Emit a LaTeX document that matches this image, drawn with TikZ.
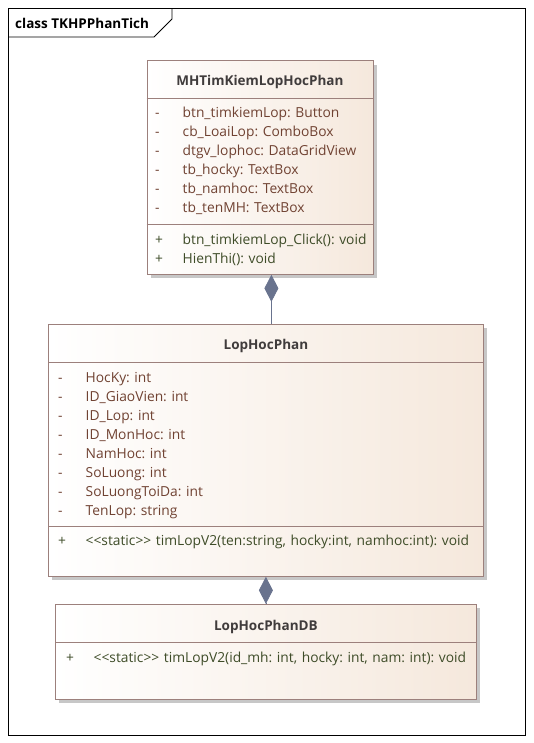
\documentclass[tikz,border=0pt]{standalone}
\usepackage{fontspec}
\setmainfont{Open Sans}
\usetikzlibrary{positioning,arrows.meta,shadows}
\definecolor{clsline}{RGB}{156,128,124}
\definecolor{clsfill}{RGB}{245,232,220}
\definecolor{attrtxt}{RGB}{112,66,50}
\definecolor{opstxt}{RGB}{62,76,40}
\definecolor{titletxt}{RGB}{64,60,60}
\definecolor{assoc}{RGB}{105,115,142}
\newcommand\vsb[1]{\makebox[27.5pt][l]{#1}}
\newcommand\stc{{<}{<}static{>}{>}}
\frenchspacing
\tikzset{
  umlclass/.style={draw=clsline, line width=0.8pt, left color=white, right color=clsfill,
    anchor=north west, inner sep=0pt,
    drop shadow={shadow xshift=4pt, shadow yshift=-4pt, fill=black!22, opacity=1}},
  sep/.style={draw=clsline, line width=0.8pt},
  clstitle/.style={font=\fontsize{13.5}{16}\selectfont\bfseries, text=titletxt, inner sep=0pt},
  attr/.style={font=\fontsize{13.8}{16}\selectfont, text=attrtxt, text width=420pt, align=left,
    inner sep=0pt, text height=8pt, text depth=0pt, node distance=19pt},
  oper/.style={attr, text=opstxt},
  comp/.style={draw=assoc, line width=0.8pt, -{Diamond[length=27pt,width=14pt,fill=assoc]}}
}
\begin{document}
\begin{tikzpicture}[x=1pt,y=-1pt]
  \useasboundingbox (0,0) rectangle (533,743);
  % frame
  \draw[line width=0.8pt] (8.5,8.5) rectangle (525,735);
  \draw[line width=0.8pt] (8.5,37) -- (154,37) -- (172,19) -- (172,8.5);
  \node (frm) [anchor=west, inner sep=0pt, font=\fontsize{13.5}{16}\selectfont\bfseries] at (15,23) {class TKHPPhanTich};

  % MHTimKiemLopHocPhan
  \node (mh) [umlclass, minimum width=226pt, minimum height=213.5pt] at (146.5,60.5) {};
  \draw[sep] ([yshift=-37.5pt]mh.north west) -- ([yshift=-37.5pt]mh.north east);
  \draw[sep] ([yshift=-163.5pt]mh.north west) -- ([yshift=-163.5pt]mh.north east);
  \node (mhT) [clstitle] at ([yshift=-21.5pt]mh.north) {MHTimKiemLopHocPhan};
  \node (mh1) [attr, anchor=west] at (155,114) {\vsb{-}btn\_timkiemLop: Button};
  \node (mh2) [attr, below of=mh1] {\vsb{-}cb\_LoaiLop: ComboBox};
  \node (mh3) [attr, below of=mh2] {\vsb{-}dtgv\_lophoc: DataGridView};
  \node (mh4) [attr, below of=mh3] {\vsb{-}tb\_hocky: TextBox};
  \node (mh5) [attr, below of=mh4] {\vsb{-}tb\_namhoc: TextBox};
  \node (mh6) [attr, below of=mh5] {\vsb{-}tb\_tenMH: TextBox};
  \node (mh7) [oper, anchor=west] at (155,240) {\vsb{+}btn\_timkiemLop\_Click(): void};
  \node (mh8) [oper, below of=mh7] {\vsb{+}HienThi(): void};

  % LopHocPhan
  \node (lhp) [umlclass, minimum width=435pt, minimum height=252pt] at (48,324) {};
  \draw[sep] ([yshift=-38pt]lhp.north west) -- ([yshift=-38pt]lhp.north east);
  \draw[sep] ([yshift=-202pt]lhp.north west) -- ([yshift=-202pt]lhp.north east);
  \node (lhpT) [clstitle] at ([yshift=-22pt]lhp.north) {LopHocPhan};
  \node (lhp1) [attr, anchor=west] at (58,378) {\vsb{-}HocKy: int};
  \node (lhp2) [attr, below of=lhp1] {\vsb{-}ID\_GiaoVien: int};
  \node (lhp3) [attr, below of=lhp2] {\vsb{-}ID\_Lop: int};
  \node (lhp4) [attr, below of=lhp3] {\vsb{-}ID\_MonHoc: int};
  \node (lhp5) [attr, below of=lhp4] {\vsb{-}NamHoc: int};
  \node (lhp6) [attr, below of=lhp5] {\vsb{-}SoLuong: int};
  \node (lhp7) [attr, below of=lhp6] {\vsb{-}SoLuongToiDa: int};
  \node (lhp8) [attr, below of=lhp7] {\vsb{-}TenLop: string};
  \node (lhp9) [oper, anchor=west] at (58,541) {\vsb{+}\stc{} timLopV2(ten:string, hocky:int, namhoc:int): void};

  % LopHocPhanDB
  \node (db) [umlclass, minimum width=421pt, minimum height=95pt] at (55,604) {};
  \draw[sep] ([yshift=-38pt]db.north west) -- ([yshift=-38pt]db.north east);
  \node (dbT) [clstitle] at ([yshift=-23pt]db.north) {LopHocPhanDB};
  \node (db1) [oper, anchor=west] at (66,658) {\vsb{+}\stc{} timLopV2(id\_mh: int, hocky: int, nam: int): void};

  % compositions
  \draw[comp] ([xshift=5.5pt]lhp.north) -- ([xshift=11.5pt]mh.south);
  \draw[comp] (db.north) -- (lhp.south);
\end{tikzpicture}
\end{document}
